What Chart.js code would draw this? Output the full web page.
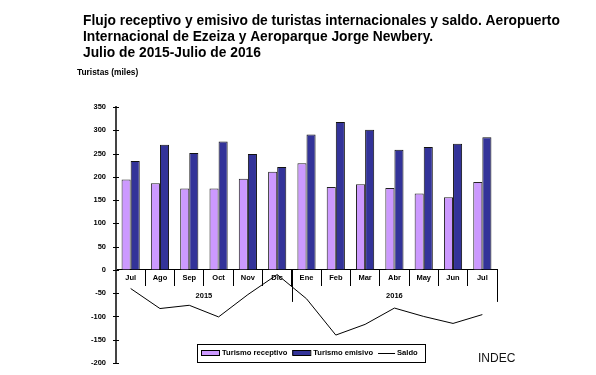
<!DOCTYPE html>
<html><head><meta charset="utf-8">
<script src="https://cdn.jsdelivr.net/npm/chart.js@4.4.1/dist/chart.umd.min.js"></script>
<style>html,body{margin:0;padding:0;background:#fff}#wrap{width:596px;height:375px;position:relative}</style>
</head><body><div id="wrap"><canvas id="c" width="596" height="375"></canvas></div>
<script>
const categories = ['Jul','Ago','Sep','Oct','Nov','Dic','Ene','Feb','Mar','Abr','May','Jun','Jul'];
const yearLabels = ['2015','2016'];
const yearStart = [0, 6];
const yearEnd = [5, 12];
const receptivo = [194,186,175,175,196,211,229,178,184,176,164,156,189];
const emisivo = [234,269,251,276,249,221,291,318,301,258,264,271,285];
const saldo = [-40,-83,-76,-101,-53,-10,-62,-140,-117,-82,-100,-115,-96];
const seriesNames = ['Turismo receptivo','Turismo emisivo','Saldo'];
const yMin = -200, yMax = 350, yStep = 50;
const titleLines = [
  'Flujo receptivo y emisivo de turistas internacionales y saldo. Aeropuerto',
  'Internacional de Ezeiza y Aeroparque Jorge Newbery.',
  'Julio de 2015-Julio de 2016'
];
const yAxisTitle = 'Turistas (miles)';
const sourceText = 'INDEC';

const FONT = "'Liberation Sans', Arial, sans-serif";

const extras = {
  id: 'extras',
  afterDraw(chart) {
    const ctx = chart.ctx;
    const xs = chart.scales.x, ys = chart.scales.y;
    ctx.save();
    // Title
    ctx.fillStyle = '#000';
    ctx.font = 'bold 13.8px ' + FONT;
    ctx.textBaseline = 'alphabetic';
    ctx.textAlign = 'left';
    titleLines.forEach((t, i) => ctx.fillText(t, 83, 25 + i * 16));
    // Y axis title
    ctx.font = 'bold 8.4px ' + FONT;
    ctx.textBaseline = 'middle';
    ctx.fillText(yAxisTitle, 77, 73);
    // Y tick marks crossing the axis
    ctx.strokeStyle = '#000';
    ctx.lineWidth = 1;
    const ax = chart.chartArea.left;
    ys.ticks.forEach(t => {
      const py = Math.round(ys.getPixelForValue(t.value)) + 0.5;
      ctx.beginPath();
      ctx.moveTo(ax - 3, py);
      ctx.lineTo(ax + 3, py);
      ctx.stroke();
    });
    // Year groups
    const y0 = ys.getPixelForValue(0);
    const step = xs.getPixelForValue(1) - xs.getPixelForValue(0);
    ctx.font = 'bold 7.5px ' + FONT;
    ctx.textAlign = 'center';
    ctx.fillStyle = '#000';
    yearLabels.forEach((lab, i) => {
      const l = xs.getPixelForValue(yearStart[i]) - step / 2;
      const r = xs.getPixelForValue(yearEnd[i]) + step / 2;
      ctx.fillText(lab, (l + r) / 2, y0 + 26);
      ctx.beginPath();
      const xr = Math.round(r) + 0.5;
      ctx.moveTo(xr, y0);
      ctx.lineTo(xr, y0 + 32);
      ctx.stroke();
    });
    // Legend
    const lx = 197, ly = 344, lw = 228, lh = 18;
    ctx.fillStyle = '#fff';
    ctx.fillRect(lx, ly, lw, lh);
    ctx.strokeStyle = '#000';
    ctx.strokeRect(lx + 0.5, ly + 0.5, lw, lh);
    const cy = ly + lh / 2;
    ctx.font = 'bold 7.6px ' + FONT;
    ctx.textAlign = 'left';
    ctx.textBaseline = 'middle';
    const ds = chart.data.datasets;
    let x = lx + 4;
    ds.forEach((d, i) => {
      if (d.type === 'line') {
        ctx.strokeStyle = d.borderColor;
        ctx.beginPath();
        ctx.moveTo(x, Math.round(cy) + 0.5);
        ctx.lineTo(x + 17, Math.round(cy) + 0.5);
        ctx.stroke();
        x += 19;
      } else {
        ctx.fillStyle = d.backgroundColor;
        ctx.fillRect(x, cy - 3, 18, 5);
        ctx.strokeStyle = '#000';
        ctx.strokeRect(x + 0.5, cy - 2.5, 18, 5);
        x += 21;
      }
      ctx.fillStyle = '#000';
      ctx.fillText(d.label, x, cy);
      x += ctx.measureText(d.label).width + 5;
    });
    // Source
    ctx.font = '12px ' + FONT;
    ctx.fillStyle = '#111';
    ctx.fillText(sourceText, 478, 359);
    ctx.restore();
  }
};

new Chart(document.getElementById('c'), {
  type: 'bar',
  data: {
    labels: categories,
    datasets: [
      { label: seriesNames[0], data: receptivo, backgroundColor: '#CC99FF', borderColor: '#222', borderWidth: 1,
        categoryPercentage: 0.62, barPercentage: 1.0, order: 2 },
      { label: seriesNames[1], data: emisivo, backgroundColor: '#333399', borderColor: '#111', borderWidth: 1,
        categoryPercentage: 0.62, barPercentage: 1.0, order: 2 },
      { type: 'line', label: seriesNames[2], data: saldo, borderColor: '#000', borderWidth: 1,
        pointRadius: 0, tension: 0, fill: false, order: 1 }
    ]
  },
  options: {
    responsive: false,
    devicePixelRatio: 1,
    animation: false,
    layout: { padding: { top: 107, bottom: 12, left: 0, right: 99 } },
    plugins: { legend: { display: false }, tooltip: { enabled: false }, title: { display: false } },
    scales: {
      x: {
        type: 'category',
        position: { y: 0 },
        offset: true,
        afterFit(scale) { scale.height = 0; scale.paddingTop = 0; scale.paddingBottom = 0; },
        grid: { offset: true, drawOnChartArea: false, drawTicks: true, tickLength: 16, color: '#000', lineWidth: 1 },
        border: { display: true, color: '#000', width: 1 },
        ticks: { font: { family: FONT, size: 7.5, weight: 'bold' }, color: '#000', padding: -12, maxRotation: 0, autoSkip: false }
      },
      y: {
        min: yMin, max: yMax,
        afterFit(scale) { scale.width = 116; scale.paddingTop = 0; scale.paddingBottom = 0; },
        grid: { drawOnChartArea: false, drawTicks: false, color: '#000' },
        border: { display: true, color: '#444', width: 2 },
        ticks: { stepSize: yStep, font: { family: FONT, size: 7.5, weight: 'bold' }, color: '#000', padding: 10 }
      }
    }
  },
  plugins: [extras]
});
</script></body></html>
